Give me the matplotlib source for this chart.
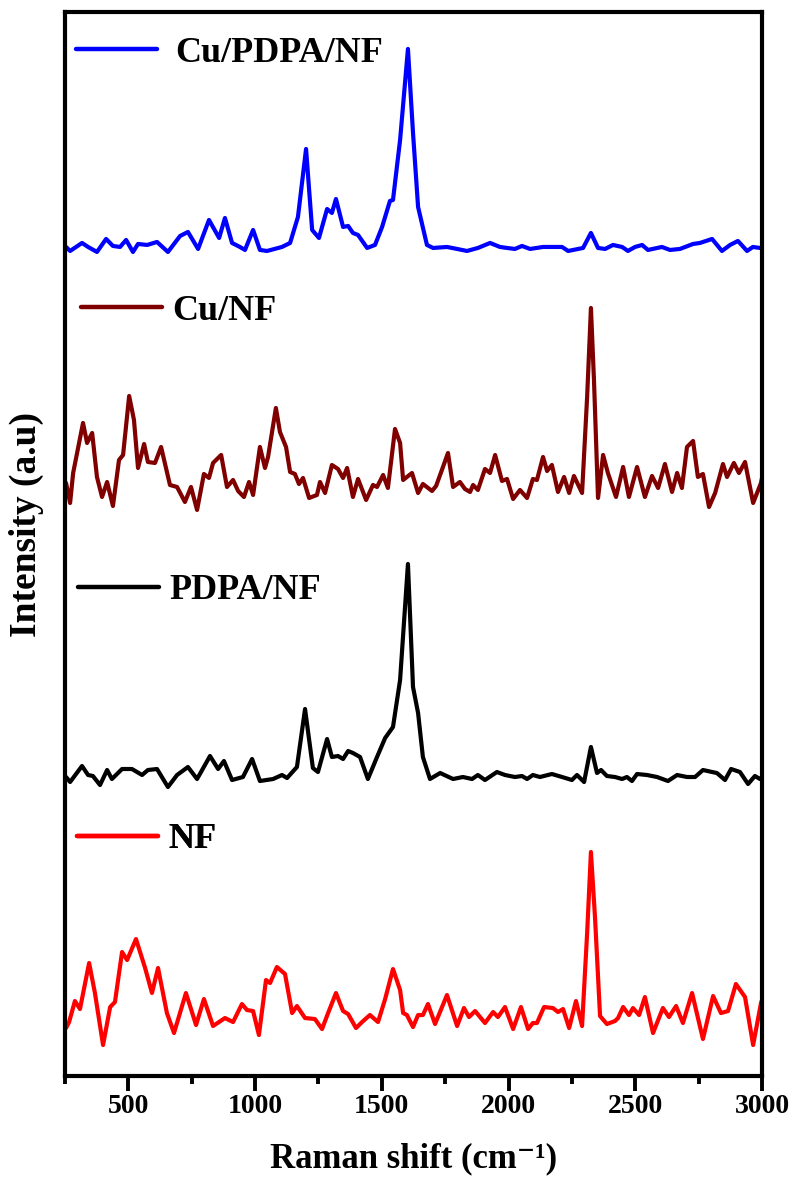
import numpy as np
import matplotlib.pyplot as plt
from matplotlib.lines import Line2D
from matplotlib.ticker import MultipleLocator

# 拉曼光谱数据（读图估计，强度为任意单位，已堆叠偏移）
shift_cupdpa = [254, 270, 317, 341, 376, 412, 439, 467, 491, 518, 538, 574, 613, 656, 704, 735,
                775, 818, 858, 881, 909, 940, 960, 992, 1019, 1047, 1106, 1138, 1169, 1201, 1225,
                1252, 1284, 1303, 1319, 1347, 1367, 1386, 1406, 1442, 1473, 1501, 1532, 1544, 1572,
                1603, 1623, 1643, 1678, 1702, 1757, 1797, 1836, 1879, 1927, 1966, 1994, 2025, 2053,
                2085, 2136, 2175, 2211, 2235, 2294, 2325, 2353, 2381, 2412, 2448, 2471, 2499, 2527,
                2550, 2605, 2637, 2676, 2728, 2755, 2803, 2842, 2874, 2905, 2941, 2964, 2992, 3000]
int_cupdpa = [829, 825, 833, 829, 824, 837, 830, 829, 836, 824, 832, 831, 834, 824, 840, 844,
              827, 856, 838, 858, 833, 829, 826, 846, 826, 825, 829, 833, 859, 927, 846,
              838, 867, 863, 877, 849, 850, 843, 841, 828, 831, 849, 875, 876, 936,
              1027, 943, 869, 831, 828, 829, 827, 825, 828, 833, 829, 828, 827, 830,
              827, 829, 829, 829, 825, 828, 843, 828, 827, 831, 829, 825, 829, 831,
              826, 829, 826, 827, 832, 833, 837, 825, 831, 835, 825, 829, 828, 828]

shift_cu = [254, 270, 282, 321, 337, 357, 376, 396, 416, 439, 463, 479, 503, 522, 538, 562, 577,
            605, 629, 664, 692, 723, 747, 771, 798, 818, 834, 866, 889, 913, 933, 956, 976, 992,
            1019, 1039, 1051, 1082, 1098, 1122, 1138, 1157, 1173, 1189, 1213, 1244, 1256, 1276,
            1303, 1327, 1347, 1363, 1386, 1406, 1438, 1465, 1481, 1505, 1524, 1552, 1572, 1584,
            1619, 1643, 1662, 1698, 1714, 1737, 1761, 1781, 1808, 1828, 1848, 1860, 1879, 1907,
            1927, 1947, 1974, 1994, 2018, 2045, 2073, 2096, 2112, 2136, 2152, 2171, 2195, 2219,
            2239, 2258, 2290, 2310, 2325, 2337, 2353, 2373, 2392, 2424, 2452, 2475, 2507, 2538,
            2566, 2590, 2617, 2645, 2665, 2684, 2704, 2728, 2747, 2767, 2791, 2815, 2846, 2862,
            2889, 2909, 2933, 2965, 2996, 3000]
int_cu = [593, 573, 603, 653, 633, 643, 599, 579, 594, 570, 616, 621, 680, 656, 608, 632, 614,
          613, 629, 591, 589, 574, 589, 566, 602, 598, 613, 621, 589, 596, 585, 579, 594, 581,
          629, 608, 619, 668, 644, 629, 604, 602, 592, 598, 578, 581, 594, 583,
          611, 607, 598, 608, 579, 597, 576, 591, 589, 601, 588, 647, 633, 596,
          603, 583, 592, 585, 590, 606, 623, 589, 594, 587, 584, 591, 586, 607,
          603, 621, 595, 597, 577, 586, 578, 597, 596, 619, 605, 611, 584, 599,
          583, 600, 583, 679, 768, 696, 578, 621, 603, 579, 609, 579, 609, 579,
          600, 588, 612, 584, 603, 588, 629, 635, 599, 602, 569, 583, 612, 599,
          613, 603, 614, 573, 593, 598]

shift_pdpa = [254, 270, 317, 341, 360, 388, 416, 435, 475, 514, 554, 577, 613, 656, 692, 735, 771,
              822, 854, 877, 909, 952, 988, 1019, 1071, 1106, 1126, 1165, 1197, 1228, 1248, 1284,
              1303, 1327, 1347, 1367, 1386, 1414, 1445, 1481, 1513, 1544, 1572, 1603, 1623, 1643,
              1662, 1690, 1730, 1781, 1820, 1856, 1879, 1907, 1954, 1986, 2025, 2053, 2073, 2096,
              2124, 2171, 2211, 2250, 2270, 2298, 2325, 2349, 2365, 2388, 2420, 2448, 2467, 2487,
              2507, 2546, 2586, 2629, 2665, 2704, 2736, 2767, 2803, 2822, 2854, 2878, 2913, 2945,
              2972, 2992, 3000]
int_pdpa = [299, 294, 310, 301, 300, 291, 306, 297, 307, 307, 301, 306, 307, 289, 301, 309, 297,
            320, 307, 315, 296, 299, 317, 295, 297, 301, 298, 309, 367, 308, 304, 337,
            319, 320, 317, 325, 323, 319, 297, 319, 338, 349, 396, 512, 389, 363,
            319, 297, 303, 297, 299, 297, 301, 296, 304, 301, 299, 300, 297, 301,
            299, 302, 299, 296, 301, 294, 329, 303, 306, 300, 299, 297, 299, 295,
            302, 301, 299, 295, 301, 299, 299, 306, 304, 303, 296, 307, 304, 292,
            300, 297, 298]

shift_nf = [254, 266, 289, 309, 345, 368, 400, 428, 447, 475, 495, 530, 566, 593, 617, 652, 680,
            727, 767, 798, 834, 881, 913, 948, 968, 992, 1015, 1043, 1059, 1086, 1118, 1146, 1165,
            1197, 1236, 1264, 1288, 1319, 1347, 1367, 1398, 1422, 1453, 1485, 1513, 1544, 1572,
            1584, 1599, 1623, 1643, 1662, 1682, 1710, 1757, 1797, 1824, 1844, 1868, 1907, 1939,
            1958, 1986, 2018, 2049, 2077, 2096, 2112, 2140, 2175, 2195, 2215, 2239, 2266, 2290,
            2310, 2325, 2341, 2361, 2388, 2420, 2432, 2452, 2475, 2491, 2515, 2538, 2570, 2609,
            2633, 2661, 2688, 2724, 2767, 2807, 2838, 2866, 2897, 2933, 2965, 2996, 3000]
int_nf = [48, 54, 75, 67, 113, 83, 31, 69, 74, 124, 116, 137, 108, 83, 108, 63, 43,
          83, 51, 77, 50, 58, 54, 72, 66, 65, 41, 96, 93, 109, 102, 63, 70,
          58, 57, 47, 63, 83, 65, 62, 48, 54, 61, 54, 77, 107, 86,
          63, 61, 49, 61, 61, 72, 52, 81, 50, 68, 59, 65, 53, 64,
          59, 69, 47, 69, 47, 53, 53, 69, 68, 64, 67, 48, 75, 50,
          143, 224, 159, 60, 52, 55, 58, 69, 61, 68, 61, 79, 43, 68,
          59, 70, 53, 83, 37, 80, 63, 65, 92, 79, 31, 73, 76]

labels = ["Cu/PDPA/NF", "Cu/NF", "PDPA/NF", "NF"]
colors = ["#0000FF", "#800000", "#000000", "#FF0000"]

plt.rcParams["font.family"] = ["Liberation Serif", "DejaVu Serif"]
plt.rcParams["font.weight"] = "bold"

fig = plt.figure(figsize=(7.95, 11.94), dpi=100)
ax = fig.add_axes([0.0818, 0.0988, 0.8767, 0.8912])

series = [(shift_cupdpa, int_cupdpa), (shift_cu, int_cu),
          (shift_pdpa, int_pdpa), (shift_nf, int_nf)]
lines = []
for (xs, ys), c in zip(series, colors):
    ln, = ax.plot(xs, ys, color=c, lw=3, solid_joinstyle="round", solid_capstyle="round")
    lines.append(ln)

# 每条曲线各自的图例（放在曲线左上方）
leg_pos = [(0.0158, 0.961), (0.023, 0.719), (0.0187, 0.456), (0.0172, 0.222)]
leg_pad = [0.5, 0.28, 0.28, 0.28]
for ln, lab, pos, tp in zip(lines, labels, leg_pos, leg_pad):
    lg = ax.legend([Line2D([], [], color=ln.get_color(), lw=3.2, solid_capstyle="round")],
                   [lab], loc="center left", bbox_to_anchor=pos, frameon=False,
                   handlelength=2.25, handletextpad=tp, borderaxespad=0, borderpad=0,
                   prop={"weight": "bold", "size": 26})
    ax.add_artist(lg)

ax.set_xlim(250, 3000)
ax.set_ylim(0, 1064)
ax.xaxis.set_major_locator(MultipleLocator(500))
ax.xaxis.set_minor_locator(MultipleLocator(250))
ax.set_yticks([])
ax.tick_params(axis="x", which="major", direction="out", length=11, width=2.8,
               labelsize=20, pad=2)
ax.tick_params(axis="x", which="minor", direction="out", length=6, width=2.8)
for lab in ax.get_xticklabels():
    lab.set_fontweight("bold")
for sp in ax.spines.values():
    sp.set_linewidth(3)

ax.set_xlabel("Raman shift (cm\u207b\u00b9)", fontsize=25, fontweight="bold", labelpad=17)
ax.set_ylabel("Intensity (a.u)", fontsize=27, fontweight="bold")
ax.yaxis.set_label_coords(-0.03, 0.518)

fig.savefig("out.png", dpi=100)
